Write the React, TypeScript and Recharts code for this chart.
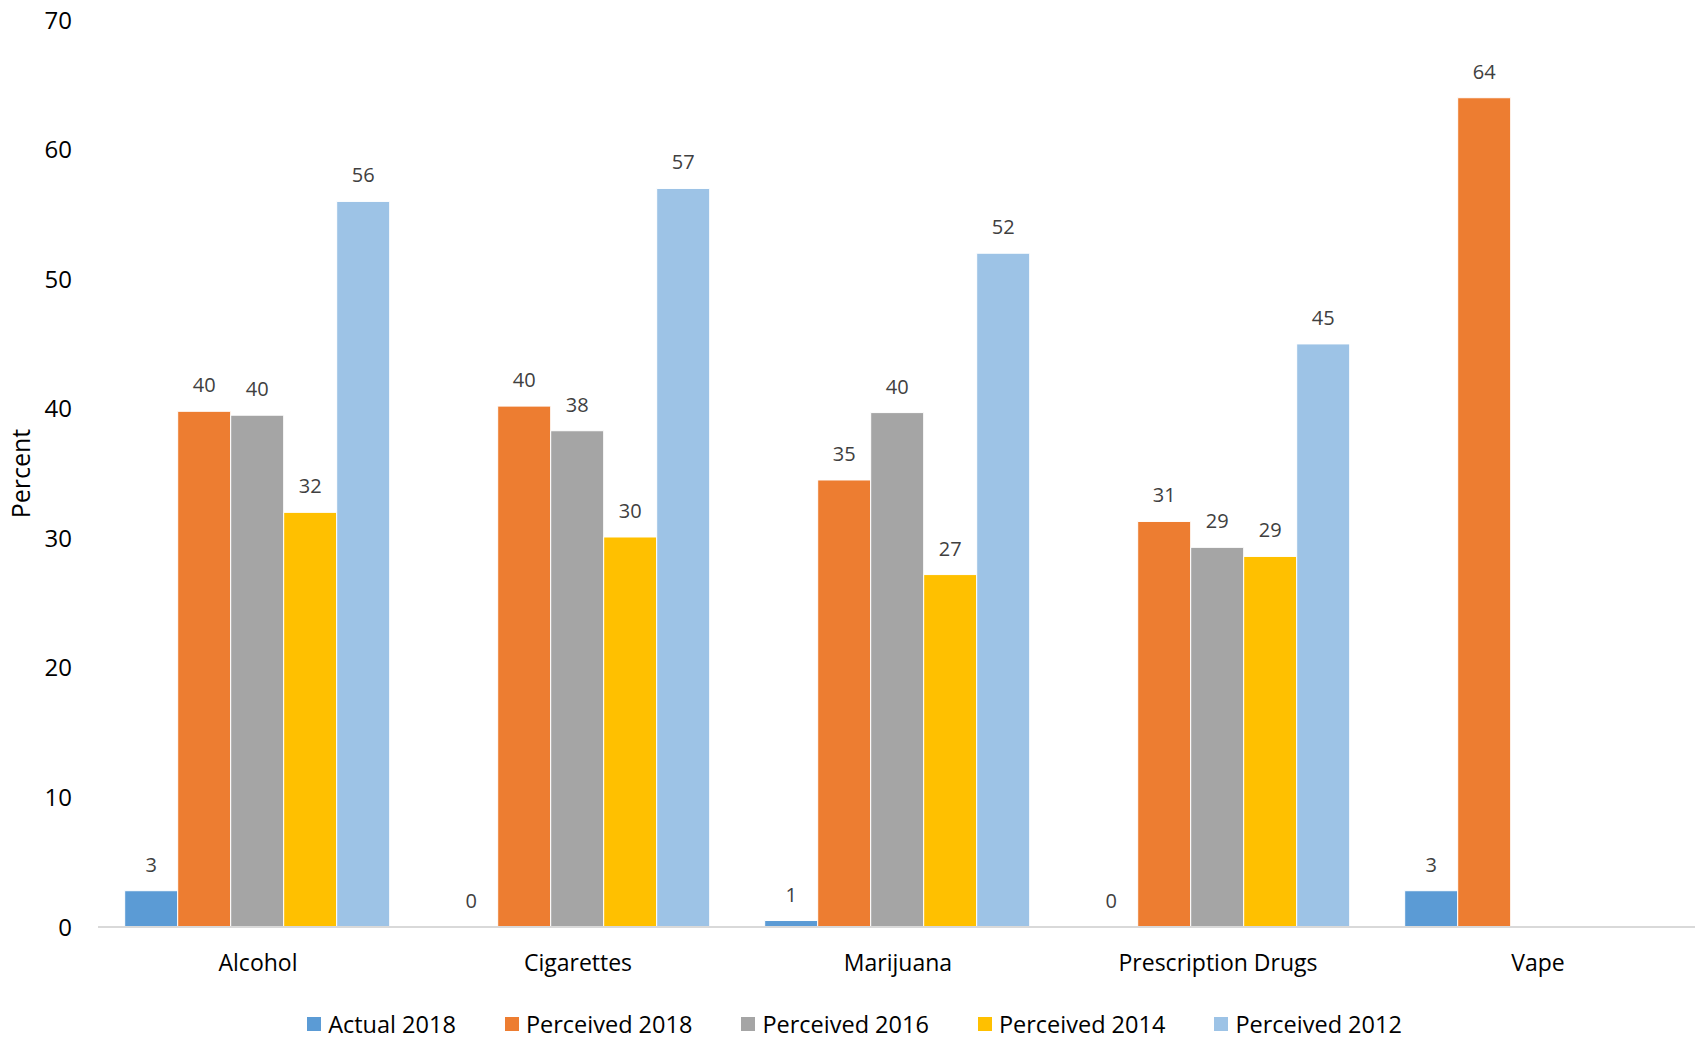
import React from 'react';
import { BarChart, Bar, XAxis, YAxis, Legend, LabelList, Label } from 'recharts';

// Substance categories along the x axis
const categories = ['Alcohol', 'Cigarettes', 'Marijuana', 'Prescription Drugs', 'Vape'];

// Percent values per series (null = not surveyed)
const actual2018 = [2.8, 0, 0.5, 0, 2.8];
const perceived2018 = [39.8, 40.2, 34.5, 31.3, 64.0];
const perceived2016 = [39.5, 38.3, 39.7, 29.3, null];
const perceived2014 = [32.0, 30.1, 27.2, 28.6, null];
const perceived2012 = [56.0, 57.0, 52.0, 45.0, null];

const yTicks = [0, 10, 20, 30, 40, 50, 60, 70];

const series = [
  { key: 'actual2018', name: 'Actual 2018', color: '#5B9BD5', values: actual2018 },
  { key: 'perceived2018', name: 'Perceived 2018', color: '#ED7D31', values: perceived2018 },
  { key: 'perceived2016', name: 'Perceived 2016', color: '#A5A5A5', values: perceived2016 },
  { key: 'perceived2014', name: 'Perceived 2014', color: '#FFC000', values: perceived2014 },
  { key: 'perceived2012', name: 'Perceived 2012', color: '#9DC3E6', values: perceived2012 },
];

const data = categories.map((category, i) => {
  const row: Record<string, string | number | null> = { category };
  series.forEach((s) => {
    row[s.key] = s.values[i];
  });
  return row;
});

const FONT = '"Open Sans", "Noto Sans", sans-serif';

// Value label above each bar, rounded to a whole percent; zero bars still get a "0"
const renderValueLabel = (props: any) => {
  const { x, y, width, height, value } = props;
  if (value === null || value === undefined) return null;
  const top = Math.min(Number(y), Number(y) + Number(height || 0));
  return (
    <text
      x={Number(x) + Number(width) / 2}
      y={top - 19}
      textAnchor="middle"
      fill="#404040"
      fontSize={20}
      fontFamily={FONT}
    >
      {Math.round(Number(value))}
    </text>
  );
};

const renderLegend = () => (
  <div
    style={{
      display: 'flex',
      justifyContent: 'center',
      alignItems: 'center',
      fontFamily: FONT,
      fontSize: 23.5,
      lineHeight: '32px',
      color: '#000',
      paddingLeft: 14,
      paddingBottom: 0,
    }}
  >
    {series.map((s, i) => (
      <div key={s.key} style={{ display: 'flex', alignItems: 'center', marginLeft: i === 0 ? 0 : 49 }}>
        <span style={{ display: 'inline-block', width: 14, height: 14, background: s.color, marginRight: 7 }} />
        <span>{s.name}</span>
      </div>
    ))}
  </div>
);

export default function App() {
  return (
    <div style={{ position: 'absolute', left: 0, top: 0, width: 1695, height: 1040, background: '#fff' }}>
      <BarChart
        width={1695}
        height={1040}
        data={data}
        margin={{ top: 20, right: -3, bottom: 0, left: 0 }}
        barCategoryGap={26.7}
        barGap={0}
      >
        <XAxis
          dataKey="category"
          height={81}
          tickLine={false}
          tickSize={0}
          tickMargin={28}
          axisLine={{ stroke: '#D9D9D9', strokeWidth: 2 }}
          tick={{ fill: '#000', fontSize: 23, fontFamily: FONT }}
        />
        <YAxis
          width={98}
          domain={[0, 70]}
          ticks={yTicks}
          interval={0}
          axisLine={false}
          tickLine={false}
          tickSize={0}
          tickMargin={26}
          tick={{ fill: '#000', fontSize: 24, fontFamily: FONT }}
        >
          <Label
            content={({ viewBox }: any) => {
              const cx = viewBox.x + 20;
              const cy = viewBox.y + viewBox.height / 2;
              return (
                <text
                  x={cx}
                  y={cy}
                  transform={`rotate(-90, ${cx}, ${cy})`}
                  textAnchor="middle"
                  dominantBaseline="central"
                  fill="#000"
                  fontSize={25}
                  fontFamily={FONT}
                >
                  Percent
                </text>
              );
            }}
          />
        </YAxis>
        <Legend verticalAlign="bottom" content={renderLegend} wrapperStyle={{ bottom: 0, left: 0, width: 1695 }} />
        {series.map((s) => (
          <Bar
            key={s.key}
            dataKey={s.key}
            name={s.name}
            fill={s.color}
            stroke="#fff"
            strokeWidth={1}
            minPointSize={(v: any) => (v === 0 ? 0.01 : 0)}
            isAnimationActive={false}
          >
            <LabelList dataKey={s.key} content={renderValueLabel} />
          </Bar>
        ))}
      </BarChart>
    </div>
  );
}
